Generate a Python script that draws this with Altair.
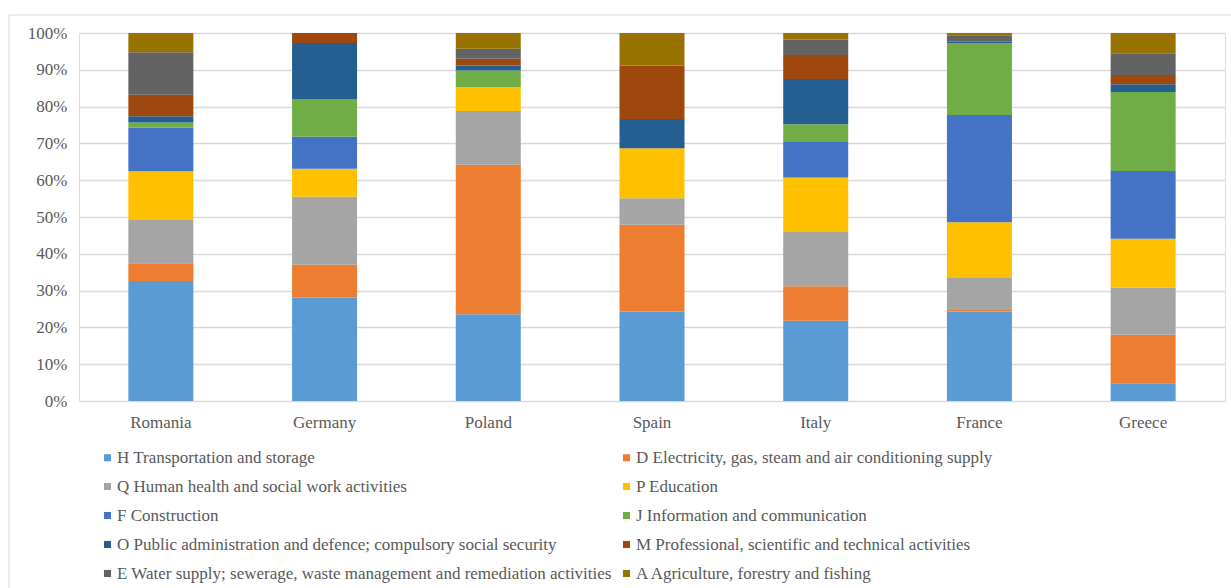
import altair as alt
import pandas as pd

countries = ["Romania", "Germany", "Poland", "Spain", "Italy", "France", "Greece"]
sectors = [
    "H Transportation and storage",
    "D Electricity, gas, steam and air conditioning supply",
    "Q Human health and social work activities",
    "P Education",
    "F Construction",
    "J Information and communication",
    "O Public administration and defence; compulsory social security",
    "M Professional, scientific and technical activities",
    "E Water supply; sewerage, waste management and remediation activities",
    "A  Agriculture, forestry and fishing",
]
colors = ["#5B9BD5", "#ED7D31", "#A5A5A5", "#FFC000", "#4472C4",
          "#70AD47", "#255E91", "#9E480E", "#636363", "#997300"]

# share (%) of each sector per country, bottom to top
romania = [32.6, 4.8, 11.8, 13.2, 11.9, 1.4, 1.7, 5.8, 11.6, 5.2]
germany = [28.1, 8.9, 18.5, 7.6, 8.7, 10.1, 15.4, 2.7, 0.0, 0.0]
poland = [23.6, 40.6, 14.6, 6.5, 0.0, 4.5, 1.4, 1.8, 2.7, 4.3]
spain = [24.3, 23.6, 7.2, 13.6, 0.0, 0.0, 7.9, 14.6, 0.0, 8.8]
italy = [21.8, 9.4, 14.9, 14.6, 9.7, 4.8, 12.3, 6.5, 4.2, 1.8]
france = [24.3, 0.4, 8.9, 15.0, 29.1, 19.5, 0.4, 0.0, 1.8, 0.6]
greece = [4.8, 13.2, 12.8, 13.3, 18.4, 21.5, 2.1, 2.5, 5.9, 5.5]

series = [romania, germany, poland, spain, italy, france, greece]
rows = []
for c, vals in zip(countries, series):
    for i, (s, v) in enumerate(zip(sectors, vals)):
        rows.append({"country": c, "sector": s, "value": v, "idx": i})
df = pd.DataFrame(rows)

FONT = "Liberation Serif"
GREY = "#595959"

bars = alt.Chart(df).mark_bar(size=65).encode(
    x=alt.X("country:N", sort=countries, title=None,
            scale=alt.Scale(paddingInner=0.6, paddingOuter=0.3),
            axis=alt.Axis(labelAngle=0, ticks=False, domain=False,
                          labelFont=FONT, labelFontSize=17, labelColor=GREY,
                          labelPadding=13)),
    y=alt.Y("value:Q", stack="normalize", title=None,
            scale=alt.Scale(domain=[0, 1]),
            axis=alt.Axis(format="%", values=[i / 10 for i in range(11)],
                          ticks=False, domain=False, labelFont=FONT,
                          labelFontSize=17, labelColor=GREY, labelPadding=12,
                          gridColor="#D9D9D9", gridWidth=1.3)),
    color=alt.Color("sector:N", sort=sectors,
                    scale=alt.Scale(domain=sectors, range=colors),
                    legend=alt.Legend(orient="none", legendX=20, legendY=416,
                                      direction="horizontal",
                                      columns=2, title=None, symbolType="square",
                                      symbolSize=50, symbolStrokeWidth=0,
                                      labelFont=FONT, labelFontSize=17,
                                      labelColor=GREY, labelLimit=700,
                                      rowPadding=11, columnPadding=6,
                                      symbolOffset=0, labelOffset=1)),
    order=alt.Order("idx:Q", sort="ascending"),
)

border = alt.Chart(alt.Data(values=[{}])).mark_rect(
    fill=None, stroke="#D9D9D9", strokeWidth=1
).encode(x=alt.value(-70), y=alt.value(-18), x2=alt.value(1400), y2=alt.value(800))

chart = alt.layer(border, bars).properties(
    width=1146, height=368,
    padding={"left": 79, "top": 33, "right": 6, "bottom": 187},
    autosize=alt.AutoSizeParams(type="none"),
).configure_view(stroke=None).configure(background="white", font=FONT)

chart.save("out.html", embed_options={"renderer": "svg", "actions": False})
